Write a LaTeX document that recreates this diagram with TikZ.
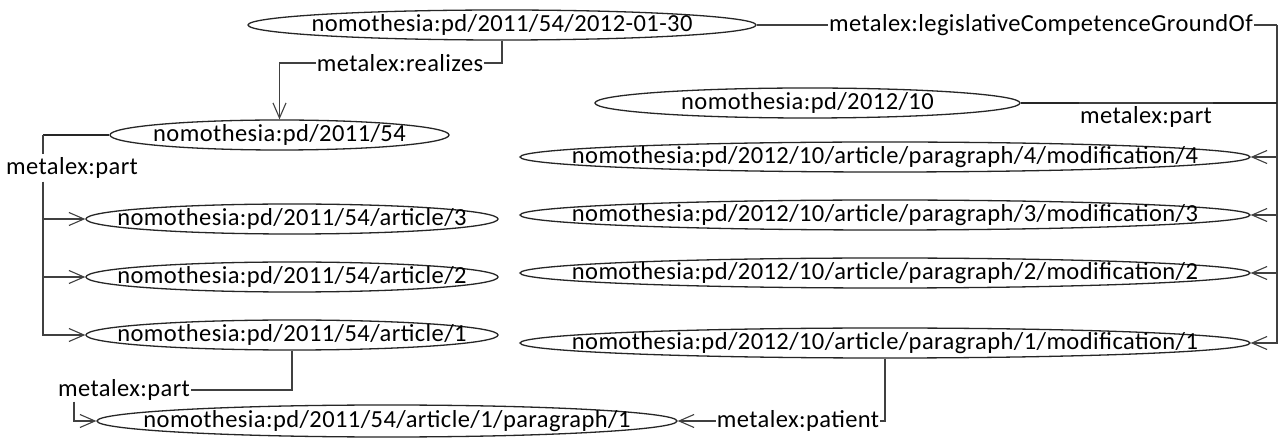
\documentclass[tikz,border=0pt]{standalone}
\usepackage{fontspec}
\setmainfont{Carlito}[LetterSpace=1.7]
\usetikzlibrary{shapes.geometric,arrows.meta,calc}
\begin{document}
\begin{tikzpicture}[x=1pt,y=-1pt,
  font=\fontsize{24.5pt}{28pt}\selectfont,
  res/.style={ellipse,draw=black!85,line width=1.3pt,inner sep=0pt,minimum height=30pt},
  rel/.style={inner sep=1pt},
  link/.style={draw=black!75,line width=1.2pt},
  heavy/.style={draw=black!85,line width=2.6pt},
  tip/.style={-{Straight Barb[length=15pt,width=13pt,line width=1.1pt]}}
]
\useasboundingbox[fill=white] (0,0) rectangle (1280,443);

% resources
\node[res,minimum width=508pt,label=center:{nomothesia:pd/2011/54/2012-01-30}] (n1) at (502,25) {};
\node[res,minimum width=339pt,label=center:{nomothesia:pd/2011/54}] (n2) at (279.5,135) {};
\node[res,minimum width=412pt,label=center:{nomothesia:pd/2011/54/article/3}] (a3) at (292,219) {};
\node[res,minimum width=412pt,label=center:{nomothesia:pd/2011/54/article/2}] (a2) at (292,277) {};
\node[res,minimum width=412pt,label=center:{nomothesia:pd/2011/54/article/1}] (a1) at (292,335) {};
\node[res,minimum width=580pt,minimum height=32pt,label=center:{nomothesia:pd/2011/54/article/1/paragraph/1}] (p1) at (387,421) {};
\node[res,minimum width=425pt,label=center:{nomothesia:pd/2012/10}] (r) at (807.5,103) {};
\node[res,minimum width=730pt,label=center:{nomothesia:pd/2012/10/article/paragraph/4/modification/4}] (m4) at (885,157) {};
\node[res,minimum width=730pt,label=center:{nomothesia:pd/2012/10/article/paragraph/3/modification/3}] (m3) at (885,215) {};
\node[res,minimum width=730pt,label=center:{nomothesia:pd/2012/10/article/paragraph/2/modification/2}] (m2) at (885,273) {};
\node[res,minimum width=730pt,label=center:{nomothesia:pd/2012/10/article/paragraph/1/modification/1}] (m1) at (885,343) {};

% property labels
\node[rel] (lreal) at (400,63) {metalex:realizes};
\node[rel,inner sep=3pt] (lpa) at (72,168) {metalex:part};
\node[rel] (lpb) at (124,390) {metalex:part};
\node[rel] (lpat) at (798,421) {metalex:patient};
\node[rel] (lleg) at (1041,25) {metalex:legislativeCompetenceGroundOf};
\node[rel] (lpr) at (1146,117) {metalex:part};

% bend points
\coordinate (cA) at (43,135);
\coordinate (cB) at (74,390);
\coordinate (cR) at (1277,25);

% realizes
\draw[link] (n1.south) |- (lreal.east);
\draw[link,tip] (lreal.west) -| (n2.north);

% parts of the act
\draw[heavy] (n2.west) -- (cA);
\draw[link,line width=1.8pt] (cA) -- (cA |- lpa.north);
\draw[link,tip] (cA |- lpa.south) |- (a1.west);
\draw[link,tip] (cA |- a3.west) -- (a3.west);
\draw[link,tip] (cA |- a2.west) -- (a2.west);

% paragraph of article 1
\draw[link] (a1.south) |- (lpb.east);
\draw[link,tip] (cB |- lpb.south) |- (p1.west);

% patient
\draw[link] (m1.south) |- (lpat.east);
\draw[link,tip] (lpat.west) -- (p1.east);

% legislative competence and modifications
\draw[link] (n1.east) -- (lleg.west);
\draw[link] (lleg.east) -- (cR);
\draw[link,tip] (cR) |- (m1.east);
\draw[link,tip] (cR |- m4.east) -- (m4.east);
\draw[link,tip] (cR |- m3.east) -- (m3.east);
\draw[link,tip] (cR |- m2.east) -- (m2.east);

% parts of the amending act
\draw[heavy] (r.east) -- (r.east -| lpr.west);
\draw[link] (r.east -| lpr.west) -- (r.east -| lpr.east);
\draw[heavy] (r.east -| lpr.east) -- (r.east -| cR);
\end{tikzpicture}
\end{document}
